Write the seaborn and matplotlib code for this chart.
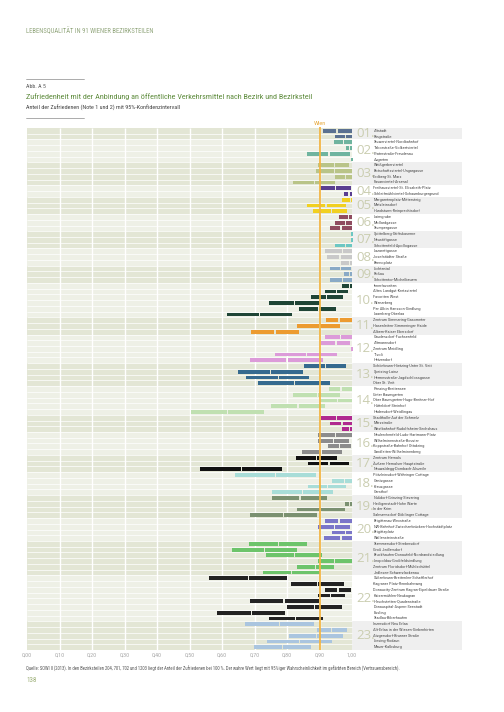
import numpy as np
import pandas as pd
import matplotlib
matplotlib.use("Agg")
import matplotlib.pyplot as plt
from matplotlib.patches import Rectangle
from matplotlib.lines import Line2D
from matplotlib import font_manager as fm
import seaborn as sns

sns.set_theme(style="white")
avail = {f.name for f in fm.fontManager.ttflist}
COND = next((n for n in ["Liberation Sans Narrow", "Roboto Condensed", "Roboto"] if n in avail), "DejaVu Sans")
plt.rcParams["font.family"] = [COND, "DejaVu Sans"]

# ---------------- data ----------------
district_ids = ["01", "02", "03", "04", "05", "06", "07", "08", "09", "10", "11", "12",
                "13", "14", "15", "16", "17", "18", "19", "20", "21", "22", "23"]
district_sizes = [2, 4, 4, 2, 3, 3, 3, 3, 3, 6, 3, 5, 4, 5, 3, 4, 3, 4, 4, 4, 6, 8, 5]
district_colors = ["#5b7191", "#6fb49f", "#b9c488", "#5a3f90", "#f1d020", "#8f4b5f",
                   "#6cc7c3", "#c9c9c9", "#8aaac6", "#1f4536", "#ec9b30", "#dc9bd9",
                   "#356a8f", "#c0e0b1", "#b02a8f", "#8c8c8c", "#111111", "#a8ddd8",
                   "#7b9171", "#7b76c9", "#6dc46b", "#232323", "#aac5df"]

subdistricts = [
    "Altstadt", "Ringstraße",
    "Stuwerviertel-Nordbahnhof", "Taborstraße-Volkertviertel", "Praterstraße-Freudenau", "Augarten",
    "Weißgerberviertel", "Botschaftsviertel-Ungargasse", "Erdberg-St. Marx", "Fasanviertel-Arsenal",
    "Freihausviertel-St. Elisabeth-Platz", "Schleifmühlviertel-Schaumburgergrund",
    "Margaretenplatz-Mittersteig", "Matzleinsdorf", "Hundsturm-Reinprechtsdorf",
    "Laimgrube", "Mollardgasse", "Stumpergasse",
    "Spittelberg-Stiftskaserne", "Neustiftgasse", "Schottenfeld-Apollogasse",
    "Lazarettgasse", "Josefstädter Straße", "Bennoplatz",
    "Lichtental", "Roßau", "Schottentor-Michelbeuern",
    "Innerfavoriten", "Altes Landgut-Kretaviertel", "Favoriten West", "Wienerberg",
    "Per Albin Hansson-Siedlung", "Laaerberg-Oberlaa",
    "Zentrum Simmering-Gasometer", "Hasenleiten-Simmeringer Haide", "Albern-Kaiser Ebersdorf",
    "Gaudenzdorf-Fuchsenfeld", "Altmannsdorf", "Zentrum Meidling", "Tivoli", "Hetzendorf",
    "Schönbrunn-Hietzing-Unter St. Veit", "Speising-Lainz", "Hermesstraße-Jagdschlossgasse", "Ober St. Veit",
    "Penzing-Breitensee", "Unter Baumgarten", "Ober Baumgarten-Hugo-Breitner-Hof",
    "Hütteldorf-Steinhof", "Hadersdorf-Weidlingau",
    "Stadthalle-Auf der Schmelz", "Märzstraße", "Westbahnhof-Rudolfsheim-Sechshaus",
    "Neulerchenfeld-Ludo-Hartmann-Platz", "Wilhelminenstraße-Bouvier",
    "Koppstraße-Bahnhof Ottakring", "Sandleiten-Wilhelminenberg",
    "Zentrum Hernals", "Äußere Hernalser Hauptstraße", "Neuwaldegg-Dornbach-Alszeile",
    "Pötzleinsdorf-Währinger Cottage", "Gentzgasse", "Kreuzgasse", "Gersthof",
    "Nußdorf-Grinzing-Sievering", "Heiligenstadt-Hohe Warte", "In der Krim", "Salmannsdorf-Döblinger Cottage",
    "Brigittenau-Wexstraße", "NW-Bahnhof-Zwischenbrücken-Hochstädtplatz", "Brigittaplatz", "Wallensteinstraße",
    "Stammersdorf-Strebersdorf", "Groß Jedlersdorf", "Bruckhaufen-Donaufeld-Nordrandsiedlung",
    "Leopoldau-Großfeldsiedlung", "Zentrum Floridsdorf-Mühlschüttel", "Jedlesee-Schwarzlackenau",
    "Süßenbrunn-Breitenlee-Schafflerhof", "Kagraner Platz-Rennbahnweg",
    "Donaucity-Zentrum Kagran-Eipeldauer Straße", "Kaisermühlen-Neukagran",
    "Hirschstetten-Quadenstraße", "Donauspital-Aspern-Seestadt", "Essling", "Stadlau-Biberhaufen",
    "Inzersdorf Neu Erlaa", "Alt-Erlaa in der Wiesen-Siebenhirten", "Atzgersdorf-Brunner Straße",
    "Liesing-Rodaun", "Mauer-Kalksburg",
]

lower = [
    0.910, 0.949,
    0.944, 0.982, 0.863, 1.000,
    0.896, 0.890, 0.949, 0.819,
    0.903, 0.974,
    0.970, 0.860, 0.881,
    0.961, 0.947, 0.932,
    1.000, 1.000, 0.949,
    0.916, 0.923, 0.966,
    0.932, 0.974, 0.933,
    0.970, 0.918, 0.874, 0.745, 0.836, 0.615,
    0.921, 0.830, 0.689,
    0.916, 0.904, 1.000, 0.763, 0.685,
    0.853, 0.649, 0.674, 0.710,
    0.929, 0.819, 0.900, 0.750, 0.506,
    0.906, 0.933, 0.969,
    0.896, 0.896, 0.925, 0.846,
    0.827, 0.866, 0.532,
    0.639, 0.939, 0.865, 0.755,
    0.755, 0.979, 0.830, 0.685,
    0.916, 0.896, 0.937, 0.913,
    0.682, 0.630, 0.735, 0.894, 0.830, 0.726,
    0.561, 0.812, 0.917, 0.894, 0.685, 0.800, 0.584, 0.745,
    0.672, 0.891, 0.807, 0.737, 0.698,
]
point = [
    0.954, 0.980,
    0.973, 0.993, 0.929, 1.000,
    0.945, 0.947, 0.979, 0.884,
    0.950, 0.991,
    0.995, 0.920, 0.938,
    0.990, 0.981, 0.966,
    1.000, 1.000, 0.979,
    0.970, 0.963, 0.993,
    0.964, 0.993, 0.970,
    0.993, 0.952, 0.921, 0.824, 0.896, 0.716,
    0.960, 0.900, 0.763,
    0.964, 0.951, 1.000, 0.861, 0.800,
    0.918, 0.748, 0.773, 0.822,
    0.966, 0.895, 0.955, 0.834, 0.618,
    0.953, 0.969, 0.993,
    0.948, 0.944, 0.962, 0.907,
    0.891, 0.929, 0.659,
    0.765, 0.978, 0.924, 0.848,
    0.840, 0.993, 0.903, 0.789,
    0.960, 0.945, 0.980, 0.966,
    0.773, 0.730, 0.822, 0.947, 0.888, 0.814,
    0.681, 0.894, 0.957, 0.935, 0.791, 0.884, 0.690, 0.827,
    0.778, 0.937, 0.890, 0.838, 0.786,
]
upper = [
    0.999, 1.000,
    0.999, 1.000, 0.993, 1.000,
    0.991, 1.000, 1.000, 0.949,
    0.998, 1.000,
    1.000, 0.980, 0.986,
    1.000, 1.000, 1.000,
    1.000, 1.000, 1.000,
    1.000, 1.000, 1.000,
    0.997, 1.000, 1.000,
    1.000, 0.988, 0.973, 0.902, 0.950, 0.815,
    0.999, 0.963, 0.838,
    1.000, 0.993, 1.000, 0.954, 0.912,
    0.981, 0.848, 0.869, 0.933,
    1.000, 0.962, 1.000, 0.918, 0.730,
    1.000, 1.000, 1.000,
    1.000, 0.990, 0.997, 0.968,
    0.954, 0.991, 0.784,
    0.890, 1.000, 0.983, 0.941,
    0.923, 1.000, 0.977, 0.893,
    1.000, 0.994, 1.000, 1.000,
    0.863, 0.830, 0.908, 0.999, 0.945, 0.902,
    0.800, 0.974, 0.998, 0.979, 0.897, 0.969, 0.794, 0.910,
    0.882, 0.985, 0.973, 0.937, 0.874,
]
wien_value = 0.90
x_ticks = [0.0, 0.1, 0.2, 0.3, 0.4, 0.5, 0.6, 0.7, 0.8, 0.9, 1.0]
x_tick_labels = ["0,00", "0,10", "0,20", "0,30", "0,40", "0,50", "0,60", "0,70", "0,80", "0,90", "1,00"]

# ---------------- frame ----------------
district_of_row = [d for d, n in zip(district_ids, district_sizes) for _ in range(n)]
df = pd.DataFrame({"district": district_of_row, "name": subdistricts,
                   "lo": lower, "pt": point, "hi": upper})
df["row"] = np.arange(len(df))
pal = dict(zip(district_ids, district_colors))
df["color"] = df["district"].map(pal)
N = len(df)

W, H = 504, 712
fig = plt.figure(figsize=(W / 100, H / 100), dpi=100)
fig.patch.set_facecolor("white")
XMAX = (462 - 27) / 325
ax = fig.add_axes([27 / W, 1 - 650 / H, (462 - 27) / W, 522 / H])
ax.set_facecolor("white")
ax.set_xlim(0, XMAX)
ax.set_ylim(N - 0.5, -0.5)
for sp in ax.spines.values():
    sp.set_visible(False)
ax.set_yticks([])
ax.set_xticks(x_ticks)
ax.set_xticklabels(x_tick_labels)
ax.tick_params(axis="x", length=0, pad=2.2, labelsize=4.3, labelcolor="#a8a8a8")
ax.grid(False)

# backgrounds
start = 0
for k, (d, n) in enumerate(zip(district_ids, district_sizes)):
    odd = (k % 2 == 0)
    ax.add_patch(Rectangle((0, start - 0.5), 1, n, facecolor="#e3e6d5" if odd else "#eef0e6",
                           lw=0, zorder=0))
    if odd:
        ax.add_patch(Rectangle((1, start - 0.5), XMAX - 1, n, facecolor="#efefef", lw=0, zorder=0))
    ax.text(1.012, start + (n - 1) / 2, d + ".", fontsize=9.5, color="#cacdb0",
            va="center", ha="left", family=["Open Sans", "DejaVu Sans"])
    start += n
ax.hlines(np.arange(N - 1) + 0.5, 0, 1, color="white", lw=0.5, zorder=1)
ax.vlines(np.arange(1, 10) / 10, -0.5, N - 0.5, color="white", lw=1.0, zorder=1)

# bars: CI with a gap at the point estimate
gap = 0.0018
bh = 0.66
ax.barh(df["row"], (df["pt"] - gap) - df["lo"], left=df["lo"], height=bh,
        color=df["color"], lw=0, zorder=3)
ax.barh(df["row"], df["hi"] - (df["pt"] + gap), left=df["pt"] + gap, height=bh,
        color=df["color"], lw=0, zorder=3)

# Wien reference
ax.plot([wien_value, wien_value], [N - 0.5, -0.75], color="#f2b544", lw=1.3,
        zorder=5, clip_on=False, solid_capstyle="butt")
ax.text(wien_value, -1.25, "Wien", ha="center", va="center", fontsize=4.6, color="#e9ad45")

# sub-district labels
for r, name in zip(df["row"], df["name"]):
    ax.text(1.066, r, name, fontsize=3.2, color="#505050", va="center", ha="left")

# ---------------- page texts ----------------
def fy(y):
    return 1 - y / H

fig.text(26 / W, fy(31), "LEBENSQUALITÄT IN 91 WIENER BEZIRKSTEILEN", fontsize=4.8,
         color="#93a77e", va="center", ha="left")
fig.add_artist(Line2D([26 / W, 84 / W], [fy(79), fy(79)], color="#8a8a8a", lw=0.5))
fig.text(26 / W, fy(86.5), "Abb. A 5", fontsize=4.2, color="#555555", va="center")
fig.text(26 / W, fy(96.5), "Zufriedenheit mit der Anbindung an öffentliche Verkehrsmittel nach Bezirk und Bezirksteil",
         fontsize=5.9, color="#5f8c3e", va="center")
fig.text(26 / W, fy(108), "Anteil der Zufriedenen (Note 1 und 2) mit 95%-Konfidenzintervall",
         fontsize=4.4, color="#444444", va="center")
fig.add_artist(Line2D([26 / W, 84 / W], [fy(118), fy(118)], color="#8a8a8a", lw=0.5))
fig.text(26 / W, fy(669), "Quelle: SOWI II (2013). In den Bezirksteilen 204, 701, 702 und 1203 liegt der Anteil "
         "der Zufriedenen bei 100 %. Der wahre Wert liegt mit 95%iger Wahrscheinlichkeit im gefärbten "
         "Bereich (Vertrauensbereich).", fontsize=3.35, color="#555555", va="center")
fig.text(26 / W, fy(681), "138", fontsize=5.0, color="#9aad74", va="center")

fig.savefig("out.png", dpi=100, facecolor="white")
